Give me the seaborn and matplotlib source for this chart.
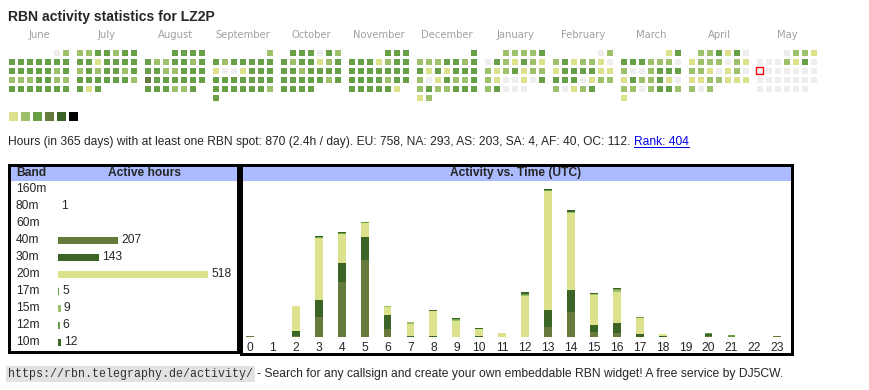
import numpy as np
import pandas as pd
import seaborn as sns
import matplotlib.pyplot as plt
from matplotlib.colors import ListedColormap
from matplotlib.patches import Rectangle
from matplotlib.lines import Line2D

W, H = 870, 390  # output size in px (dpi 100)

# --- calendar: activity level per day (0 = none ... 5 = most), June 2024 - May 2025
cal_months = ['June', 'July', 'August', 'September', 'October', 'November',
              'December', 'January', 'February', 'March', 'April', 'May']
cal_start = ['2024-06', '2024-07', '2024-08', '2024-09', '2024-10', '2024-11',
             '2024-12', '2025-01', '2025-02', '2025-03', '2025-04', '2025-05']
cal_levels = [
    '02' '3333333' '3333323' '2223322' '3333333',
    '2233233' '3313333' '2323323' '3333332' '313',
    '3333' '3223323' '3322333' '4333333' '333223',
    '2' '3233333' '1001333' '3333333' '3333332' '3',
    '333032' '3233123' '3323333' '3333323' '3333',
    '333' '3331233' '3333333' '3333233' '333331',
    '3' '2223323' '3131333' '2013223' '2322333' '12',
    '22223' '0321321' '2123122' '2100103' '23000',
    '02' '2312210' '1333311' '3330122' '20123',
    '13' '3332220' '2002333' '1322310' '2202332' '1',
    '223130' '1222021' '2210120' '1122111' '202',
    '0221' '0002130' '0000000' '0000000' '000000',
]
today = '2025-05-12'
level_colors = ['#eeeeee', '#dbe28b', '#9dc16b', '#669f46', '#657a3b', '#3b6527', '#000000']

# --- summary line
days = 365
total_hours = 870
continents = ['EU', 'NA', 'AS', 'SA', 'AF', 'OC']
cont_hours = [758, 293, 203, 4, 40, 112]
rank = 404

# --- active hours per band
bands = ['160m', '80m', '60m', '40m', '30m', '20m', '17m', '15m', '12m', '10m']
band_hours = [0, 1, 0, 207, 143, 518, 5, 9, 6, 12]
band_colors = ['#dbe28b', '#657a3b', '#9dc16b', '#657a3b', '#3b6527',
               '#dbe28b', '#669f46', '#9dc16b', '#669f46', '#3b6527']

# --- activity vs. time (UTC), hours per band for each hour of day
hours = list(range(24))
act_80m = [1, 0, 0, 0, 0, 0, 0, 0, 0, 0, 0, 0, 0, 0, 0, 0, 0, 0, 0, 0, 0, 0, 0, 0]
act_40m = [0, 0, 1, 20, 55, 77, 8, 0, 0, 0, 0, 0, 0, 10, 25, 5, 4, 0, 0, 0, 1, 0, 0, 1]
act_30m = [0, 0, 5, 17, 19, 23, 14, 1, 1, 0, 1, 0, 0, 17, 22, 7, 10, 3, 1, 0, 2, 0, 0, 0]
act_20m = [0, 0, 25, 62, 29, 14, 8, 12, 25, 16, 7, 4, 41, 119, 77, 30, 31, 16, 2, 0, 0, 0, 0, 0]
act_17m = [0, 0, 0, 1, 0, 0, 0, 0, 0, 0, 0, 0, 0, 0, 0, 0, 0, 1, 0, 0, 1, 2, 0, 0]
act_15m = [0, 0, 0, 0, 0, 0, 1, 2, 0, 1, 0, 0, 1, 0, 1, 1, 2, 0, 0, 0, 0, 0, 0, 0]
act_12m = [0, 0, 0, 0, 1, 1, 0, 0, 0, 1, 0, 0, 1, 1, 0, 0, 1, 0, 0, 0, 0, 0, 0, 0]
act_10m = [0, 0, 0, 1, 1, 0, 0, 0, 1, 1, 1, 0, 2, 1, 2, 1, 1, 0, 0, 0, 0, 0, 0, 0]

sns.set_style('white')
plt.rcParams['font.family'] = ['Liberation Sans', 'DejaVu Sans']
FS = 8.64  # 12px

fig = plt.figure(figsize=(W / 100, H / 100), dpi=100)


def px_axes(x0, y0, x1, y1):
    # axes from pixel box (y measured from top)
    return fig.add_axes([x0 / W, 1 - y1 / H, (x1 - x0) / W, (y1 - y0) / H])


def txt(x, y, s, **kw):
    kw.setdefault('va', 'center')
    kw.setdefault('size', FS)
    return fig.text(x / W, 1 - y / H, s, **kw)


fig.text(8 / W, 1 - 17 / H, 'RBN activity statistics for LZ2P', size=10.1,
         weight='bold', va='center')

# calendar heatmaps, one per month
cmap = ListedColormap(level_colors)
tday = pd.Timestamp(today)
for m, (name, start, lev) in enumerate(zip(cal_months, cal_start, cal_levels)):
    first = pd.Timestamp(start + '-01')
    off = first.weekday()
    grid = np.full((6, 7), np.nan)
    for d, ch in enumerate(lev):
        grid[(off + d) // 7, (off + d) % 7] = int(ch)
    x0 = 7 + 68 * m
    ax = px_axes(x0, 48, x0 + 63, 102)
    sns.heatmap(grid, cmap=cmap, vmin=-0.5, vmax=6.5, cbar=False,
                linewidths=0.8, linecolor='white', xticklabels=False,
                yticklabels=False, ax=ax)
    if tday.year == first.year and tday.month == first.month:
        p = off + tday.day - 1
        ax.add_patch(Rectangle((p % 7 + 0.14, p // 7 + 0.14), 0.72, 0.72,
                               facecolor='white', edgecolor='red', lw=1.0))
    txt(x0 + 32, 35, name, ha='center', color='#a0a0a0', size=7.2,
        family='DejaVu Sans')

# level legend
axl = px_axes(7, 110, 79, 122)
sns.heatmap(np.arange(1, 7).reshape(1, 6), cmap=cmap, vmin=-0.5, vmax=6.5,
            cbar=False, linewidths=0.8, linecolor='white',
            xticklabels=False, yticklabels=False, ax=axl)

# summary line with rank link
parts = ', '.join(f'{c}: {v}' for c, v in zip(continents, cont_hours))
info = (f'Hours (in {days} days) with at least one RBN spot: {total_hours} '
        f'({total_hours / days:.1f}h / day). {parts}.')
t1 = txt(8, 142, info)
fig.canvas.draw()
r = fig.canvas.get_renderer()
e1 = t1.get_window_extent(r)
t2 = fig.text((e1.x1 + 3.3) / W, 1 - 142 / H, f'Rank: {rank}', size=FS,
              va='center', color='#0000ee')
e2 = t2.get_window_extent(r)
fig.add_artist(Line2D([e2.x0 / W, e2.x1 / W], [(e2.y0 + 1) / H] * 2,
                      color='#0000ee', lw=0.75))

# framed boxes with blue header
for (x0, x1, y1) in [(9.5, 238.5, 351.5), (241, 791.5, 353.5)]:
    bx = px_axes(x0, 164.5, x1, y1)
    bx.set_xticks([])
    bx.set_yticks([])
    for s in bx.spines.values():
        s.set_visible(True)
        s.set_linewidth(2.16)
        s.set_color('black')
    hh = (181 - 164.5) / (y1 - 164.5)
    bx.add_patch(Rectangle((0, 1 - hh), 1, hh, transform=bx.transAxes,
                           facecolor='#aabbff', edgecolor='none'))

txt(16, 173, 'Band', weight='bold')
txt(144.5, 173, 'Active hours', weight='bold', ha='center')
txt(516, 173, 'Activity vs. Time (UTC)', weight='bold', ha='center')

# band bars
axb = px_axes(58, 180.8, 58 + 173.7, 350.8)
axb.patch.set_alpha(0)
sns.barplot(x=band_hours, y=bands, hue=bands, palette=band_colors,
            legend=False, orient='h', width=0.39, saturation=1,
            linewidth=0, ax=axb)
axb.set_xlim(0, 600)
axb.set_ylim(9.5, -0.5)
axb.axis('off')
for cont in axb.containers:
    v = cont.datavalues[0]
    axb.bar_label(cont, labels=[f'{v:g}' if v else ''], padding=2.2, size=FS)
for i, b in enumerate(bands):
    axb.text(-42 / 173.7, i, b, transform=axb.get_yaxis_transform(),
             ha='left', va='center', size=FS)

# stacked activity bars (cumulative layers drawn top band first)
act = pd.DataFrame({'80m': act_80m, '40m': act_40m, '30m': act_30m,
                    '20m': act_20m, '17m': act_17m, '15m': act_15m,
                    '12m': act_12m, '10m': act_10m}, index=hours)
cum = act.cumsum(axis=1)
colmap = dict(zip(bands, band_colors))
axa = px_axes(238.5, 185, 238.5 + 550.3, 337)
axa.patch.set_alpha(0)
for b in reversed(act.columns):
    sns.barplot(x=hours, y=cum[b].values, color=colmap[b], width=0.34,
                saturation=1, linewidth=0, errorbar=None, ax=axa)
axa.set_ylim(0, 152)
axa.set_xlim(-0.5, 23.5)
axa.set_yticks([])
axa.set_xticks(range(24), [str(h) for h in hours])
axa.tick_params(axis='x', length=0, pad=3.5, labelsize=FS)
axa.set_xlabel('')
axa.set_ylabel('')
sns.despine(ax=axa, left=True, bottom=True)

# footer
t3 = txt(8, 374, 'https://rbn.telegraphy.de/activity/', family='Liberation Mono',
         size=8.4, color='#333333',
         bbox=dict(boxstyle='square,pad=0.15', fc='#e2e2e2', ec='none'))
fig.canvas.draw()
e3 = t3.get_window_extent(fig.canvas.get_renderer())
fig.text((e3.x1 + 4) / W, 1 - 374 / H,
         '- Search for any callsign and create your own embeddable RBN widget! '
         'A free service by DJ5CW.', size=8.75, va='center')

fig.savefig('out.png', dpi=100)
